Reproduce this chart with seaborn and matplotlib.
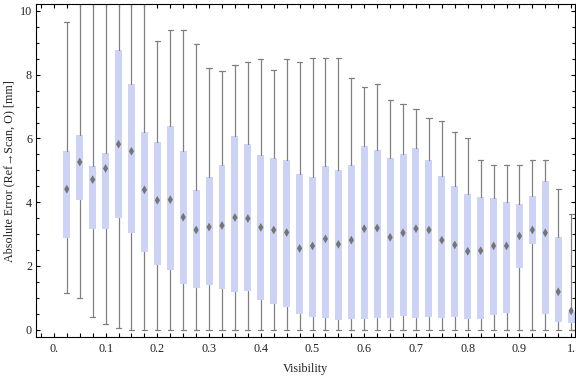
import matplotlib
matplotlib.use("Agg")
import matplotlib.pyplot as plt
import seaborn as sns
import pandas as pd
from matplotlib.ticker import FixedLocator, MultipleLocator

# ---- data ----
visibility = [0.025, 0.05, 0.075, 0.1, 0.125, 0.15, 0.175, 0.2, 0.225, 0.25,
              0.275, 0.3, 0.325, 0.35, 0.375, 0.4, 0.425, 0.45, 0.475, 0.5,
              0.525, 0.55, 0.575, 0.6, 0.625, 0.65, 0.675, 0.7, 0.725, 0.75,
              0.775, 0.8, 0.825, 0.85, 0.875, 0.9, 0.925, 0.95, 0.975, 1.0]
whisker_low = [1.14, 1.00, 0.39, 0.17, 0.04, 0.00, 0.00, 0.00, 0.00, 0.00,
               0.00, 0.00, 0.00, 0.00, 0.00, 0.00, 0.00, 0.00, 0.00, 0.00,
               0.00, 0.00, 0.00, 0.00, 0.00, 0.00, 0.00, 0.00, 0.00, 0.00,
               0.00, 0.00, 0.00, 0.00, 0.00, 0.00, 0.00, 0.00, 0.00, 0.00]
box_low = [2.88, 4.08, 3.17, 3.17, 3.51, 3.04, 2.45, 2.04, 1.88, 1.44,
           1.32, 1.40, 1.29, 1.19, 1.22, 0.94, 0.82, 0.70, 0.50, 0.41,
           0.38, 0.30, 0.34, 0.34, 0.37, 0.37, 0.43, 0.38, 0.41, 0.38,
           0.41, 0.35, 0.35, 0.45, 0.51, 1.94, 2.70, 0.50, 0.25, 0.22]
box_high = [5.62, 6.12, 5.13, 5.54, 8.77, 7.72, 6.20, 5.88, 6.39, 5.62,
            4.38, 4.79, 5.16, 6.07, 5.82, 5.48, 5.40, 5.31, 4.88, 4.79,
            5.13, 5.01, 5.16, 5.76, 5.63, 5.38, 5.51, 5.70, 5.32, 4.82,
            4.50, 4.25, 4.16, 4.13, 4.00, 3.94, 4.19, 4.68, 2.91, 0.56]
whisker_high = [9.67, 11.5, 11.5, 11.5, 11.5, 11.5, 11.5, 9.07, 9.39, 9.39,
                8.95, 8.22, 8.13, 8.29, 8.41, 8.48, 8.16, 8.48, 8.41, 8.54,
                8.51, 8.51, 7.91, 7.63, 7.72, 7.22, 7.07, 6.94, 6.63, 6.56,
                6.19, 6.00, 5.31, 5.18, 5.18, 5.18, 5.33, 5.33, 4.42, 3.63]
mean_err = [4.41, 5.26, 4.71, 5.06, 5.82, 5.60, 4.39, 4.06, 4.08, 3.53,
            3.13, 3.22, 3.27, 3.52, 3.49, 3.21, 3.13, 3.05, 2.55, 2.63,
            2.85, 2.68, 2.81, 3.17, 3.19, 2.90, 3.04, 3.17, 3.13, 2.81,
            2.66, 2.46, 2.48, 2.63, 2.63, 2.94, 3.13, 3.04, 1.19, 0.59]

x_ticks = [0.0, 0.1, 0.2, 0.3, 0.4, 0.5, 0.6, 0.7, 0.8, 0.9, 1.0]
x_ticklabels = ["0.", "0.1", "0.2", "0.3", "0.4", "0.5", "0.6", "0.7", "0.8", "0.9", "1."]
y_ticks = [0, 2, 4, 6, 8, 10]
y_ticklabels = ["0", "2", "4", "6", "8", "10"]

df = pd.DataFrame({"Visibility": visibility, "lo": whisker_low, "q1": box_low,
                   "q3": box_high, "hi": whisker_high, "mean": mean_err})

# ---- style ----
sns.set_theme(style="ticks")
plt.rcParams["font.family"] = ["Liberation Serif", "DejaVu Serif"]

box_color = "#ccd3f5"
whisk_color = "#808080"
text_color = "#222222"

fig = plt.figure(figsize=(5.76, 3.77), dpi=100)
ax = fig.add_axes([0.063, 0.106, 0.9358, 0.8826])

stats = []
for _, r in df.iterrows():
    stats.append(dict(med=r["mean"], q1=r["q1"], q3=r["q3"],
                      whislo=r["lo"], whishi=r["hi"], mean=r["mean"], fliers=[]))

ax.bxp(stats, positions=df["Visibility"].tolist(), widths=0.0135, capwidths=0.010,
       patch_artist=True, showfliers=False, showmeans=False, manage_ticks=False,
       boxprops=dict(facecolor=box_color, edgecolor="none", linewidth=0),
       whiskerprops=dict(color=whisk_color, linewidth=0.9),
       capprops=dict(color=whisk_color, linewidth=0.9),
       medianprops=dict(linewidth=0, color=box_color))

sns.scatterplot(data=df, x="Visibility", y="mean", marker="d", s=20,
                color="#757575", edgecolor="none", linewidth=0, ax=ax, zorder=5)

ax.set_xlim(-0.034, 1.008)
ax.set_ylim(-0.23, 10.21)

ax.xaxis.set_major_locator(FixedLocator(x_ticks))
ax.set_xticklabels(x_ticklabels)
ax.xaxis.set_minor_locator(MultipleLocator(0.025))
ax.yaxis.set_major_locator(FixedLocator(y_ticks))
ax.set_yticklabels(y_ticklabels)
ax.yaxis.set_minor_locator(MultipleLocator(0.5))

ax.tick_params(which="both", direction="in", top=True, right=True,
               color="black", width=0.8, labelsize=8.7, labelcolor=text_color)
ax.tick_params(axis="x", which="both", length=3.0, pad=4)
ax.tick_params(axis="y", which="major", length=3.0, pad=3)
ax.tick_params(axis="y", which="minor", length=2.0)

for s in ax.spines.values():
    s.set_color("black")
    s.set_linewidth(0.8)

ax.set_xlabel("Visibility", fontsize=8.7, color=text_color, labelpad=6)
ax.set_ylabel("Absolute Error (Ref\u2192Scan, O) [mm]", fontsize=8.7,
              color=text_color, labelpad=3)

fig.savefig("out.png", dpi=100)
